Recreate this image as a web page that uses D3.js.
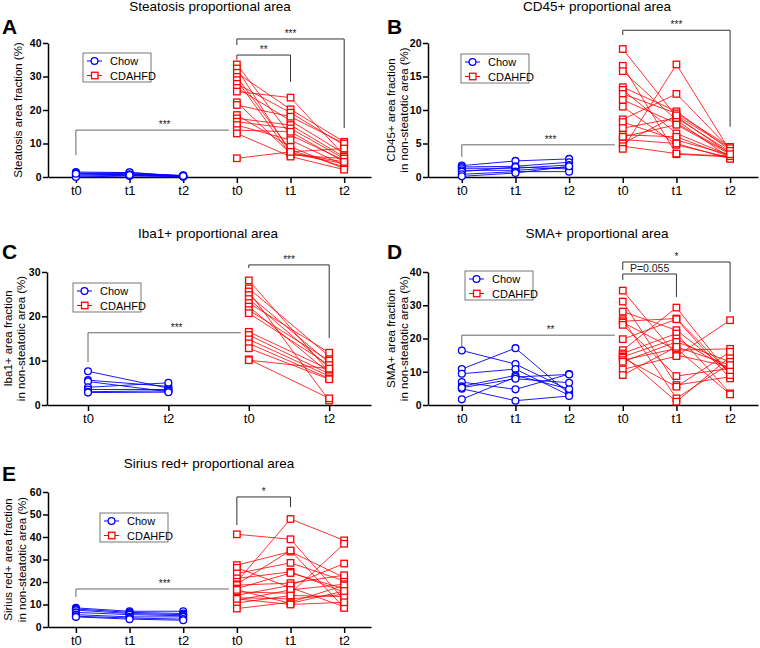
<!DOCTYPE html>
<html>
<head>
<meta charset="utf-8">
<script src="https://cdn.jsdelivr.net/npm/d3@7"></script>
<style>
  body { margin: 0; background: #fff; }
  svg { font-family: Arial, "Liberation Sans", sans-serif; }
</style>
</head>
<body>
<svg id="fig" width="760" height="648"></svg>
<script>
// ---- data (one row per mouse, values per time point, %) ----
const times3 = ["t0", "t1", "t2"];
const times2 = ["t0", "t2"];
const groupNames = ["Chow", "CDAHFD"];

const steatosisChow = [
    [1.5, 1.3, 0.3], [1.2, 1.0, 0.4], [0.9, 1.4, 0.2], [0.6, 0.8, 0.5],
    [0.3, 0.5, 0.2], [0.0, 0.3, 0.1], [1.0, 0.6, 0.3]
];
const steatosisCdahfd = [
    [33.6, 12.5, 5.0], [32.4, 7.2, 4.5], [31.1, 20.2, 10.5], [29.9, 8.0, 3.0],
    [28.9, 6.6, 5.5], [27.8, 19.2, 9.5], [26.6, 16.8, 7.0], [25.5, 23.7, 6.5],
    [22.3, 7.0, 4.0], [21.5, 18.0, 10.0], [18.5, 9.0, 2.5], [17.5, 15.5, 6.0],
    [16.5, 14.5, 5.5], [15.5, 11.0, 3.5], [14.0, 13.5, 4.5], [13.0, 6.1, 2.2],
    [5.6, 7.5, 8.5]
];

const cd45Chow = [
    [1.7, 2.4, 2.7], [1.5, 1.6, 2.2], [1.3, 1.3, 1.8], [1.0, 1.0, 1.5],
    [0.8, 1.5, 1.2], [0.4, 0.8, 0.8], [0.1, 0.6, 1.6]
];
const cd45Cdahfd = [
    [19.1, 9.0, 3.5], [16.6, 3.4, 3.0], [15.8, 8.5, 2.8], [13.4, 9.8, 4.0],
    [13.0, 6.5, 3.2], [12.4, 9.5, 4.5], [11.5, 8.0, 3.6], [10.5, 4.8, 2.9],
    [8.6, 12.4, 4.2], [8.2, 5.5, 3.3], [7.3, 8.8, 3.8], [6.3, 6.0, 3.0],
    [5.6, 5.0, 2.7], [5.0, 9.2, 4.3], [4.6, 3.5, 3.1], [4.2, 16.8, 3.9],
    [6.0, 7.8, 3.4]
];

const iba1Chow = [
    [7.6, 3.8], [5.6, 4.2], [5.3, 3.0], [4.0, 5.0], [3.5, 3.5], [3.0, 3.2], [2.8, 2.9]
];
const iba1Cdahfd = [
    [28.1, 7.5], [26.3, 11.0], [25.6, 1.0], [24.8, 9.5], [23.9, 8.5], [23.0, 11.8],
    [22.2, 7.2], [21.4, 10.0], [20.7, 9.0], [16.5, 8.0], [15.8, 7.0], [14.8, 6.5],
    [13.9, 6.0], [12.8, 5.8], [10.3, 1.5], [10.1, 8.2]
];

const smaChow = [
    [16.4, 12.3, 4.5], [10.8, 17.1, 3.4], [9.4, 10.8, 2.9], [6.9, 4.7, 9.3],
    [5.6, 8.9, 4.8], [4.9, 1.3, 2.7], [1.7, 8.4, 9.2], [5.2, 7.9, 6.7]
];
const smaCdahfd = [
    [34.4, 15.0, 11.5], [31.1, 6.0, 8.5], [28.1, 22.5, 10.0], [25.8, 2.0, 12.5],
    [25.2, 26.0, 9.5], [24.8, 16.5, 16.9], [24.1, 8.7, 11.0], [19.8, 25.8, 8.0],
    [16.5, 29.3, 9.0], [15.5, 21.5, 3.5], [15.0, 1.0, 14.5], [14.5, 20.0, 10.5],
    [14.2, 5.5, 16.0], [13.5, 17.0, 3.2], [13.0, 19.0, 13.0], [10.7, 14.7, 25.5],
    [9.0, 17.5, 12.0]
];

const siriusChow = [
    [8.5, 7.0, 7.0], [8.0, 6.5, 6.0], [7.5, 6.0, 5.5], [6.5, 5.5, 5.0],
    [5.5, 4.5, 4.5], [4.8, 4.0, 3.5], [4.5, 3.5, 3.0]
];
const siriusCdahfd = [
    [41.2, 39.0, 12.0], [27.5, 33.5, 22.0], [26.3, 17.5, 9.0], [23.8, 28.5, 20.5],
    [21.6, 24.5, 15.5], [20.1, 48.0, 38.5], [19.0, 34.0, 8.5], [18.6, 19.5, 23.0],
    [17.1, 24.0, 17.0], [15.6, 15.0, 37.0], [14.1, 18.5, 28.2], [13.0, 12.5, 14.5],
    [11.9, 16.5, 19.0], [10.7, 14.0, 13.5], [8.2, 11.0, 18.5], [16.5, 10.5, 16.0],
    [12.5, 10.0, 11.0]
];

// significance brackets: column indices, bar level and end drops in data units
const steatosisSig = [
    { from: 0, to: 3, level: 14, dropFrom: 6.5, dropTo: null, label: "***" },
    { from: 3, to: 5, level: 41.2, dropFrom: 39.4, dropTo: 14.6, label: "***" },
    { from: 3, to: 4, level: 36.4, dropFrom: 35, dropTo: 28.4, label: "**" }
];
const cd45Sig = [
    { from: 0, to: 3, level: 4.8, dropFrom: 3.0, dropTo: null, label: "***" },
    { from: 3, to: 5, level: 21.9, dropFrom: 21.2, dropTo: 7.5, label: "***" }
];
const iba1Sig = [
    { from: 0, to: 2, level: 16.3, dropFrom: 9.7, dropTo: null, label: "***" },
    { from: 2, to: 3, level: 31.6, dropFrom: 30.9, dropTo: 15.1, label: "***" }
];
const smaSig = [
    { from: 0, to: 3, level: 21, dropFrom: 17.1, dropTo: null, label: "**" },
    { from: 3, to: 5, level: 43, dropFrom: 40.6, dropTo: 28, label: "*" },
    { from: 3, to: 4, level: 39.4, dropFrom: 37.6, dropTo: 32.5, label: "P=0.055" }
];
const siriusSig = [
    { from: 0, to: 3, level: 16.9, dropFrom: 13.3, dropTo: null, label: "***" },
    { from: 3, to: 4, level: 57.8, dropFrom: 45.3, dropTo: 53.3, label: "*" }
];

const BLUE = "#0000ff";
const RED = "#ff0000";

const svg = d3.select("#fig");

const panels = [
    { letter: "A", title: "Steatosis proportional area", ylab: ["Steatosis area fraction (%)"],
      chow: steatosisChow, cd: steatosisCdahfd, times: times3, sig: steatosisSig, yMax: 40, yStep: 10,
      left: 48, right: 371, top: 43, bottom: 177, xDomain: [-0.52, 5.5],
      titleX: 210, titleY: 11, letterX: 2, letterY: 34, labX: [18], legend: [83, 53] },
    { letter: "B", title: "CD45+ proportional area", ylab: ["CD45+ area fraction", "in non-steatotic area (%)"],
      chow: cd45Chow, cd: cd45Cdahfd, times: times3, sig: cd45Sig, yMax: 20, yStep: 5,
      left: 428, right: 758, top: 43, bottom: 177, xDomain: [-0.63, 5.52],
      titleX: 597, titleY: 11, letterX: 387, letterY: 34, labX: [391, 404], legend: [461, 54] },
    { letter: "C", title: "Iba1+ proportional area", ylab: ["Iba1+ area fraction", "in non-steatotic area (%)"],
      chow: iba1Chow, cd: iba1Cdahfd, times: times2, sig: iba1Sig, yMax: 30, yStep: 10,
      left: 47, right: 371, top: 272, bottom: 405, xDomain: [-0.51, 3.52],
      titleX: 208, titleY: 238, letterX: 2, letterY: 259, labX: [8, 21], legend: [73, 283] },
    { letter: "D", title: "SMA+ proportional area", ylab: ["SMA+ area fraction", "in non-steatotic area (%)"],
      chow: smaChow, cd: smaCdahfd, times: times3, sig: smaSig, yMax: 40, yStep: 10,
      left: 428, right: 758, top: 272, bottom: 405, xDomain: [-0.63, 5.52],
      titleX: 597, titleY: 238, letterX: 387, letterY: 259, labX: [391, 404], legend: [465, 271] },
    { letter: "E", title: "Sirius red+ proportional area", ylab: ["Sirius red+ area fraction", "in non-steatotic area (%)"],
      chow: siriusChow, cd: siriusCdahfd, times: times3, sig: siriusSig, yMax: 60, yStep: 10,
      left: 48, right: 371, top: 492, bottom: 627, xDomain: [-0.52, 5.5],
      titleX: 209, titleY: 468, letterX: 2, letterY: 481, labX: [8, 22], legend: [100, 513] }
];

panels.forEach(drawPanel);

function drawPanel(p) {
    const g = svg.append("g");
    const k = p.times.length;
    const cats = p.times.concat(p.times);

    const x = d3.scaleLinear().domain(p.xDomain).range([p.left, p.right]);
    const y = d3.scaleLinear().domain([0, p.yMax]).range([p.bottom, p.top]);

    // title + panel letter
    g.append("text")
        .attr("x", p.titleX).attr("y", p.titleY)
        .attr("text-anchor", "middle")
        .attr("font-size", 13.5)
        .text(p.title);
    g.append("text")
        .attr("x", p.letterX).attr("y", p.letterY)
        .attr("font-size", 21).attr("font-weight", "bold")
        .text(p.letter);

    // axes
    const yAxis = g.append("g")
        .attr("transform", `translate(${p.left},0)`)
        .call(d3.axisLeft(y)
            .tickValues(d3.range(0, p.yMax + 0.01, p.yStep))
            .tickSize(5).tickSizeOuter(0).tickPadding(1.5));
    yAxis.selectAll("text")
        .attr("font-size", 10.5).attr("font-weight", "bold").attr("fill", "#000")
        .attr("font-family", "Arial, 'Liberation Sans', sans-serif");

    const xAxis = g.append("g")
        .attr("transform", `translate(0,${p.bottom})`)
        .call(d3.axisBottom(x)
            .tickValues(d3.range(2 * k))
            .tickFormat(i => cats[i])
            .tickSize(6).tickSizeOuter(0).tickPadding(3));
    xAxis.selectAll("text")
        .attr("font-size", 13).attr("fill", "#000")
        .attr("font-family", "Arial, 'Liberation Sans', sans-serif");

    g.selectAll(".domain, .tick line").attr("stroke", "#000").attr("stroke-width", 1.5);

    // y axis label
    const cy = (p.top + p.bottom) / 2;
    p.ylab.forEach((t, i) => {
        g.append("text")
            .attr("transform", `translate(${p.labX[i]},${cy}) rotate(-90)`)
            .attr("text-anchor", "middle")
            .attr("dominant-baseline", "central")
            .attr("font-size", 11.5)
            .text(t);
    });

    // brackets
    p.sig.forEach(s => {
        const x1 = x(s.from);
        const x2 = s.dropTo === null ? x(s.to) - 8 : x(s.to);
        const yb = y(s.level);
        let d = `M${x1},${y(s.dropFrom)}V${yb}H${x2}`;
        if (s.dropTo !== null) d += `V${y(s.dropTo)}`;
        const color = s.dropTo === null ? "#666" : "#333";
        g.append("path").attr("d", d).attr("fill", "none")
            .attr("stroke", color).attr("stroke-width", 1);
        const lx = s.dropTo === null ? x1 + 0.58 * (x2 - x1) : (x1 + x2) / 2;
        g.append("text")
            .attr("x", lx).attr("y", yb - 2)
            .attr("text-anchor", "middle")
            .attr("font-size", s.label.startsWith("P") ? 10.5 : 10)
            .attr("fill", "#222")
            .text(s.label);
    });

    // lines
    const line = d3.line().x(d => x(d.i)).y(d => y(d.v));
    const toPoints = (rows, offset) => rows.map(r => r.map((v, j) => ({ i: j + offset, v: v })));
    const chowSeries = toPoints(p.chow, 0);
    const cdSeries = toPoints(p.cd, k);

    g.append("g").selectAll("path").data(chowSeries).join("path")
        .attr("d", line).attr("fill", "none")
        .attr("stroke", BLUE).attr("stroke-width", 0.9);
    g.append("g").selectAll("path").data(cdSeries).join("path")
        .attr("d", line).attr("fill", "none")
        .attr("stroke", RED).attr("stroke-width", 0.8);

    // markers
    g.append("g").selectAll("circle").data(chowSeries.flat()).join("circle")
        .attr("cx", d => x(d.i)).attr("cy", d => y(d.v)).attr("r", 3.4)
        .attr("fill", "#fff").attr("stroke", BLUE).attr("stroke-width", 1.3);
    const sq = 6.5;
    g.append("g").selectAll("rect").data(cdSeries.flat()).join("rect")
        .attr("x", d => x(d.i) - sq / 2).attr("y", d => y(d.v) - sq / 2)
        .attr("width", sq).attr("height", sq)
        .attr("fill", "#fff").attr("stroke", RED).attr("stroke-width", 1.3);

    drawLegend(g, p.legend[0], p.legend[1]);
}

function drawLegend(g, lx, ly) {
    const lg = g.append("g").attr("transform", `translate(${lx},${ly})`);
    lg.append("rect").attr("width", 68).attr("height", 29)
        .attr("fill", "#fff").attr("stroke", "#555").attr("stroke-width", 0.8);
    groupNames.forEach((name, i) => {
        const yy = 8 + i * 14.5;
        const color = i === 0 ? BLUE : RED;
        lg.append("line").attr("x1", 4).attr("x2", 19).attr("y1", yy).attr("y2", yy)
            .attr("stroke", color).attr("stroke-width", 1);
        if (i === 0) {
            lg.append("circle").attr("cx", 11.5).attr("cy", yy).attr("r", 3.4)
                .attr("fill", "#fff").attr("stroke", color).attr("stroke-width", 1.3);
        } else {
            lg.append("rect").attr("x", 8.5).attr("y", yy - 3.25).attr("width", 6.5).attr("height", 6.5)
                .attr("fill", "#fff").attr("stroke", color).attr("stroke-width", 1.3);
        }
        lg.append("text").attr("x", 27).attr("y", yy).attr("dominant-baseline", "central")
            .attr("font-size", 11).text(name);
    });
}
</script>
</body>
</html>
